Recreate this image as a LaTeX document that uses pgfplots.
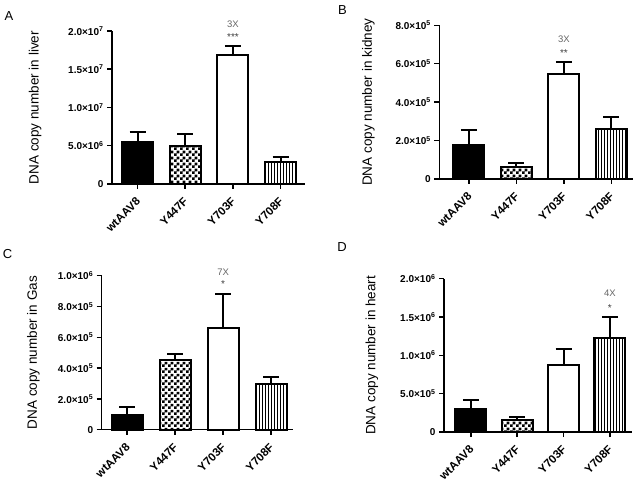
\documentclass[border=0pt]{standalone}
\usepackage{pgfplots}
\pgfplotsset{compat=1.18}
\usepackage{fontspec}
\setmainfont{Liberation Sans}
\usetikzlibrary{patterns.meta}

\newcommand{\tl}[2]{#1{\texttimes}10\textsuperscript{#2}}

\tikzdeclarepattern{
  name=finechecker,
  type=uncolored,
  bounding box={(0pt,0pt) and (6pt,6pt)},
  tile size={(6pt,6pt)},
  code={
    \tikzset{pattern/.style={fill}}
    \pgfpathrectangle{\pgfpoint{0pt}{0pt}}{\pgfpoint{3pt}{3pt}}
    \pgfpathrectangle{\pgfpoint{3pt}{3pt}}{\pgfpoint{3pt}{3pt}}
    \pgfusepath{fill}
  }
}
\tikzdeclarepattern{
  name=finevlines,
  type=uncolored,
  bounding box={(0pt,-1pt) and (3pt,4pt)},
  tile size={(3pt,3pt)},
  code={
    \pgfsetlinewidth{0.9pt}
    \pgfpathmoveto{\pgfpoint{1.5pt}{-1pt}}
    \pgfpathlineto{\pgfpoint{1.5pt}{4pt}}
    \pgfusepath{stroke}
  }
}

\tikzset{
  fold/.style={font=\fontsize{9.5}{11}\selectfont, text=black!60},
  star/.style={font=\fontsize{10}{11}\selectfont, text=black!75},
  plabel/.style={font=\fontsize{13}{15}\selectfont},
}
\pgfplotsset{
  panel/.style={
    scale only axis,
    axis x line*=bottom,
    axis y line*=left,
    axis line style={-, line width=1.5pt},
    tick align=outside,
    major tick length=5pt,
    tick style={line width=1.5pt, black},
    scaled y ticks=false,
    ymin=0,
    xtick={0,1,2,3},
    xticklabels={wtAAV8,Y447F,Y703F,Y708F},
    xticklabel style={rotate=45, anchor=east, xshift=-3.5pt, yshift=-8pt,
      font=\fontsize{11.5}{13}\selectfont\bfseries},
    yticklabel style={font=\fontsize{10}{12}\selectfont\bfseries},
    ylabel style={font=\fontsize{13.5}{15}\selectfont, at={(axis description cs:0,0.5)}, anchor=south},
    clip=false,
  },
  bar/.style={ybar, bar width=31pt, draw=black, line width=2pt,
    error bars/y dir=plus, error bars/y explicit,
    error bars/error bar style={line width=2pt, black},
    error bars/error mark options={rotate=90, mark size=8pt, line width=2pt, black}},
}

\begin{document}
\begin{tikzpicture}
\path[use as bounding box] (0pt,0pt) rectangle (637pt,480pt);

% A liver
\node[plabel] at (9pt,463.7pt) {A};
\begin{axis}[panel, at={(112pt,296pt)}, anchor=south west,
  width=193pt, height=153pt, xmin=-0.535, xmax=3.51, ymax=2e7,
  ytick={0,5e6,1e7,1.5e7,2e7},
  yticklabels={0,\tl{5.0}{6},\tl{1.0}{7},\tl{1.5}{7},\tl{2.0}{7}},
  ylabel={DNA copy number in liver}, ylabel style={yshift=67pt}]
\addplot[bar, fill=black] coordinates {(0,5.53e6) +- (0,1.22e6)};
\addplot[bar, pattern=finechecker] coordinates {(1,4.97e6) +- (0,1.53e6)};
\addplot[bar, fill=white] coordinates {(2,16.86e6) +- (0,1.18e6)};
\addplot[bar, pattern=finevlines] coordinates {(3,2.84e6) +- (0,0.65e6)};
\node[star] at (axis cs:2,18.04e6) [yshift=9pt] {***};
\node[fold] at (axis cs:2,18.04e6) [yshift=22pt] {3X};
\end{axis}

% B kidney
\node[plabel] at (342.5pt,470pt) {B};
\begin{axis}[panel, at={(439.3pt,301pt)}, anchor=south west,
  width=194pt, height=153.7pt, xmin=-0.625, xmax=3.46, ymax=8e5,
  ytick={0,2e5,4e5,6e5,8e5},
  yticklabels={0,\tl{2.0}{5},\tl{4.0}{5},\tl{6.0}{5},\tl{8.0}{5}},
  ylabel={DNA copy number in kidney}, ylabel style={yshift=61pt}]
\addplot[bar, fill=black] coordinates {(0,1.77e5) +- (0,0.78e5)};
\addplot[bar, pattern=finechecker] coordinates {(1,0.64e5) +- (0,0.19e5)};
\addplot[bar, fill=white] coordinates {(2,5.48e5) +- (0,0.60e5)};
\addplot[bar, pattern=finevlines] coordinates {(3,2.62e5) +- (0,0.61e5)};
\node[star] at (axis cs:2,6.08e5) [yshift=9.6pt] {**};
\node[fold] at (axis cs:2,6.08e5) [yshift=23pt] {3X};
\end{axis}

% C Gas
\node[plabel] at (7.5pt,225.5pt) {C};
\begin{axis}[panel, at={(101.7pt,50.3pt)}, anchor=south west,
  width=191pt, height=154pt, xmin=-0.53, xmax=3.45, ymax=1e6,
  ytick={0,2e5,4e5,6e5,8e5,1e6},
  yticklabels={0,\tl{2.0}{5},\tl{4.0}{5},\tl{6.0}{5},\tl{8.0}{5},\tl{1.0}{6}},
  ylabel={DNA copy number in Gas}, ylabel style={yshift=58.4pt}]
\addplot[bar, fill=black] coordinates {(0,0.97e5) +- (0,0.52e5)};
\addplot[bar, pattern=finechecker] coordinates {(1,4.55e5) +- (0,0.37e5)};
\addplot[bar, fill=white] coordinates {(2,6.6e5) +- (0,2.2e5)};
\addplot[bar, pattern=finevlines] coordinates {(3,2.99e5) +- (0,0.45e5)};
\node[star] at (axis cs:2,8.8e5) [yshift=9.7pt] {*};
\node[fold] at (axis cs:2,8.8e5) [yshift=21.7pt] {7X};
\end{axis}

% D heart
\node[plabel] at (342pt,232.5pt) {D};
\begin{axis}[panel, at={(444pt,48pt)}, anchor=south west,
  width=187.7pt, height=153.3pt, xmin=-0.58, xmax=3.47, ymax=2e6,
  ytick={0,5e5,1e6,1.5e6,2e6},
  yticklabels={0,\tl{5.0}{5},\tl{1.0}{6},\tl{1.5}{6},\tl{2.0}{6}},
  ylabel={DNA copy number in heart}, ylabel style={yshift=62.3pt}]
\addplot[bar, fill=black] coordinates {(0,3.0e5) +- (0,1.18e5)};
\addplot[bar, pattern=finechecker] coordinates {(1,1.6e5) +- (0,0.4e5)};
\addplot[bar, fill=white] coordinates {(2,8.75e5) +- (0,2.08e5)};
\addplot[bar, pattern=finevlines] coordinates {(3,12.3e5) +- (0,2.7e5)};
\node[star] at (axis cs:3,15e5) [yshift=9.3pt] {*};
\node[fold] at (axis cs:3,15e5) [yshift=23.7pt] {4X};
\end{axis}
\end{tikzpicture}
\end{document}
